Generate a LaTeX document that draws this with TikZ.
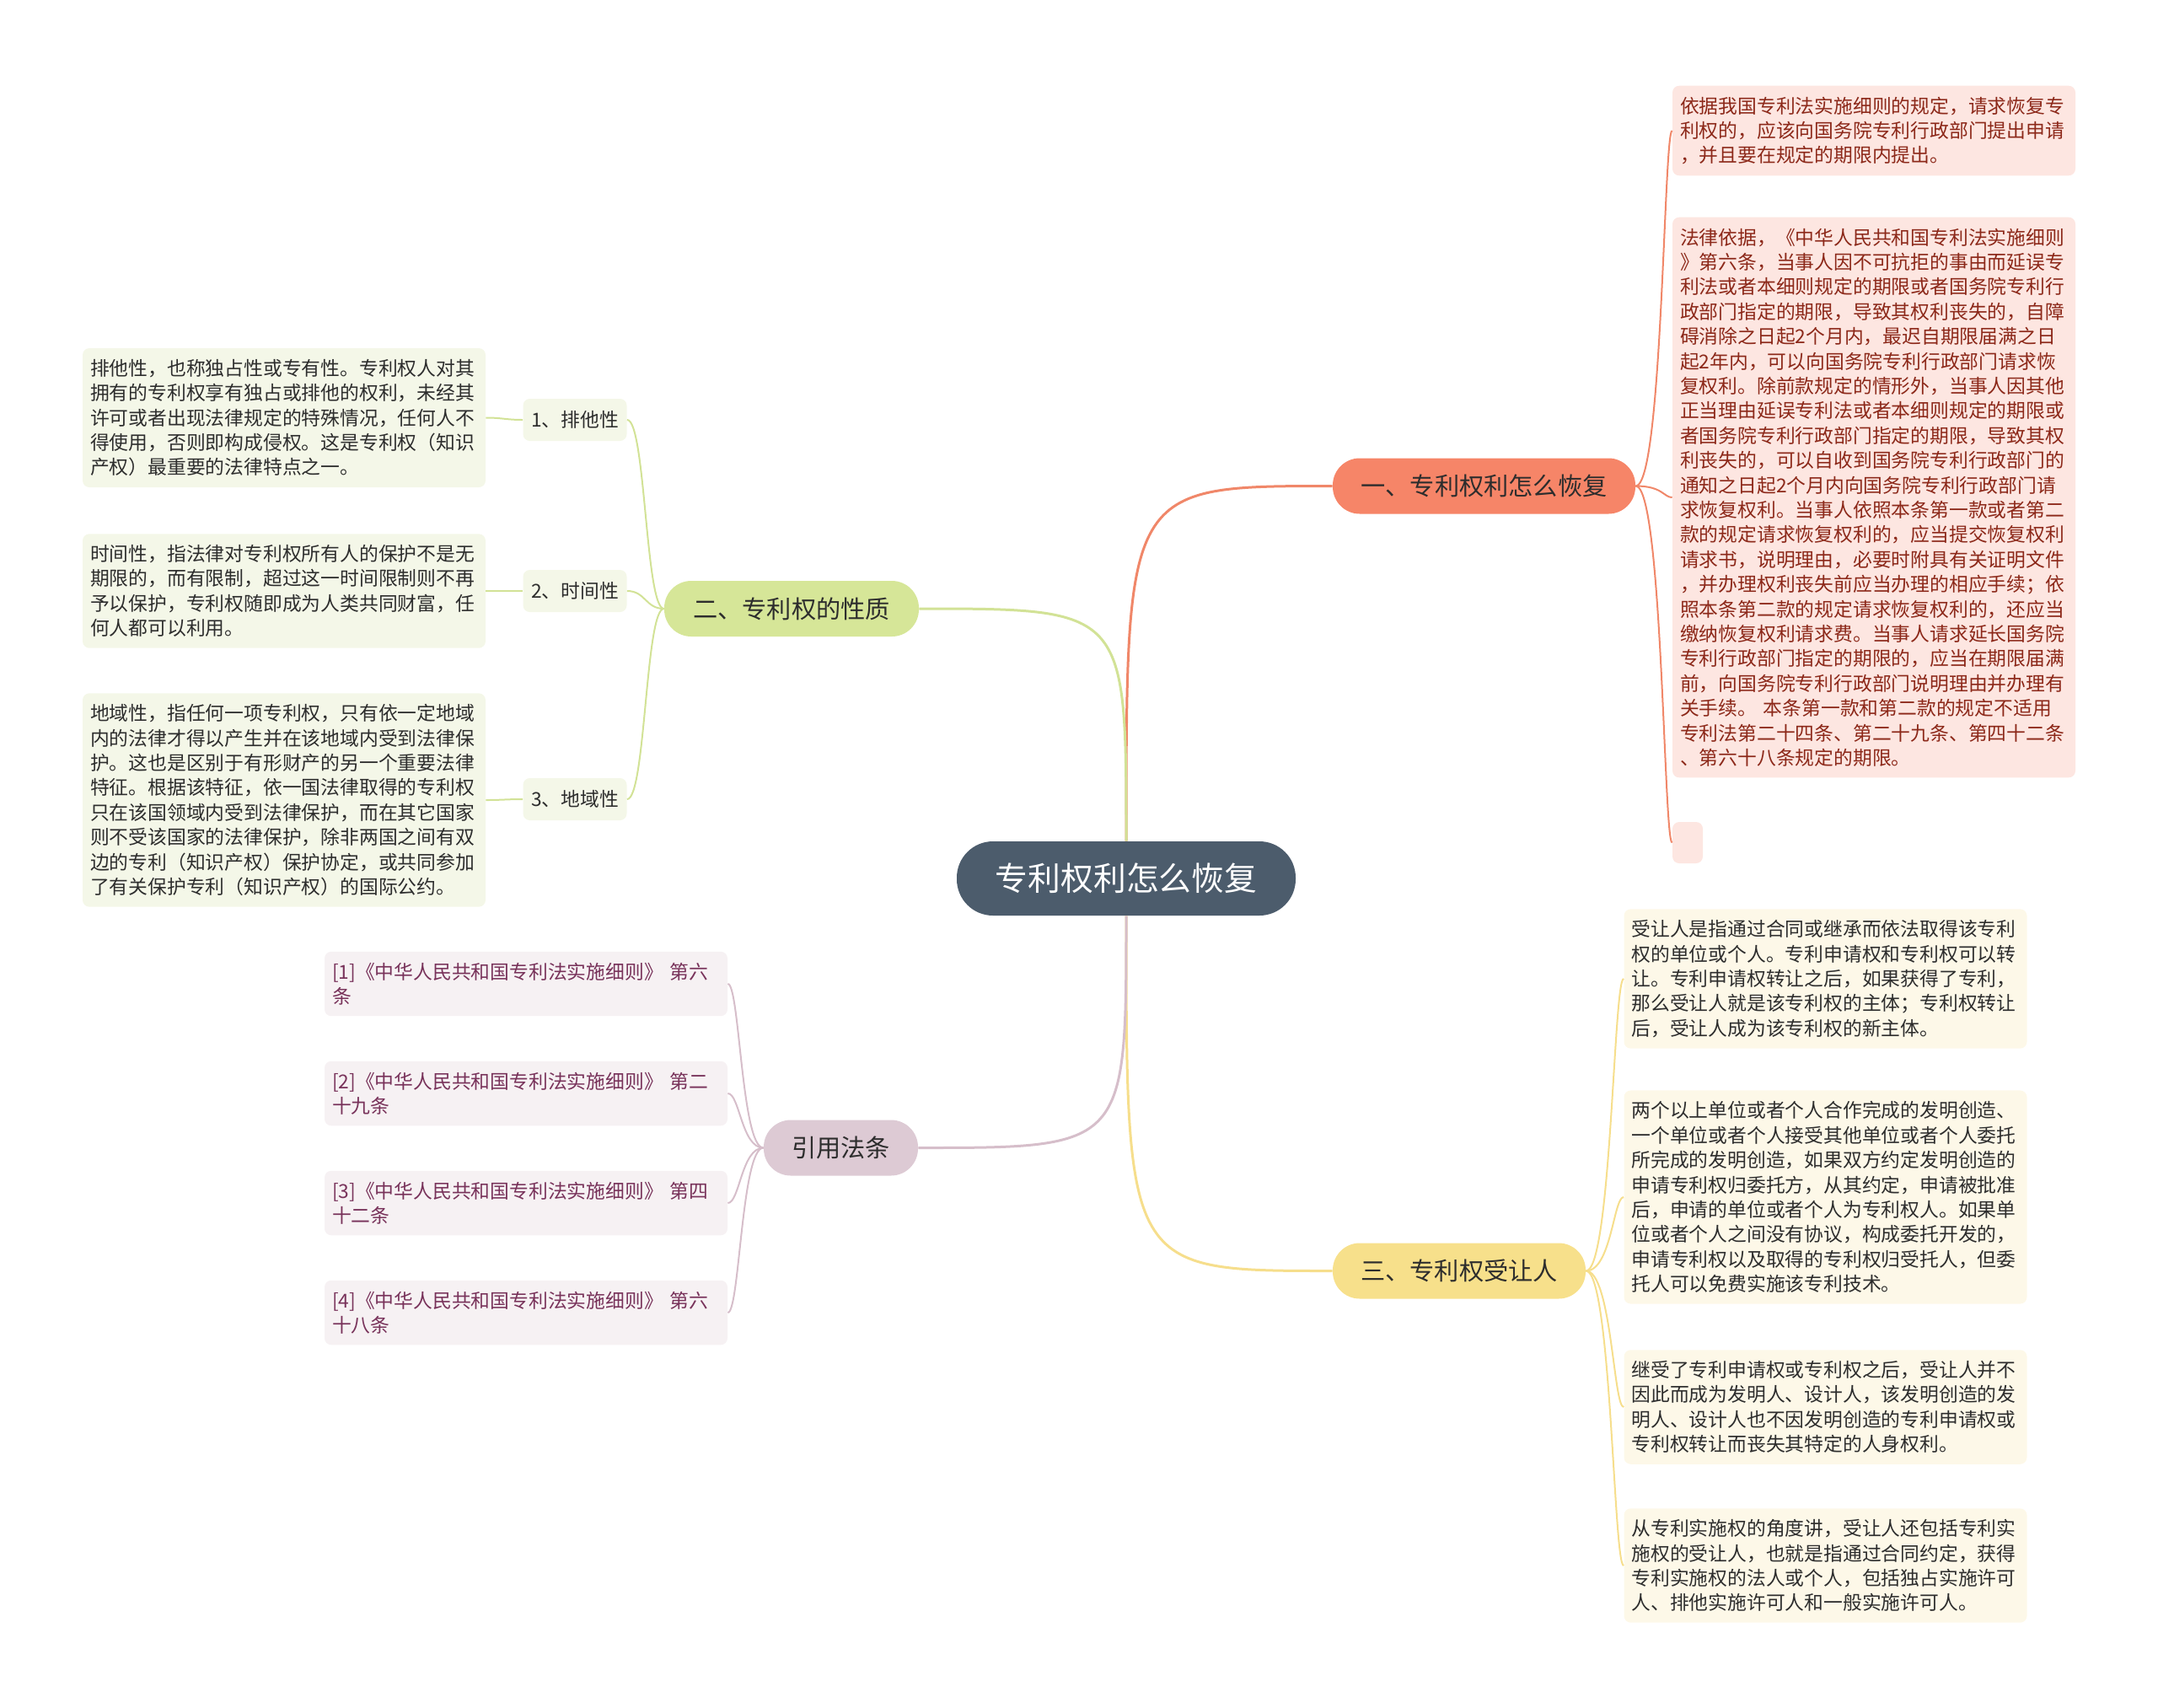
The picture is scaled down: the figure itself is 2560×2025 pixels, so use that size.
\documentclass[tikz,border=0pt]{standalone}
\usepackage{fontspec}
\setmainfont{Noto Sans CJK SC}
\usepackage{xcolor}
\usepackage{tikz}
\definecolor{rootfill}{RGB}{76,92,108}
\definecolor{redfill}{RGB}{246,133,104}
\definecolor{redline}{RGB}{240,135,105}
\definecolor{redleaf}{RGB}{253,230,225}
\definecolor{redtext}{RGB}{140,40,25}
\definecolor{greenfill}{RGB}{214,230,152}
\definecolor{greenline}{RGB}{210,226,150}
\definecolor{greenleaf}{RGB}{244,247,232}
\definecolor{yellowfill}{RGB}{247,224,139}
\definecolor{yellowline}{RGB}{246,222,140}
\definecolor{yellowleaf}{RGB}{253,248,232}
\definecolor{plumfill}{RGB}{221,202,212}
\definecolor{plumline}{RGB}{214,190,202}
\definecolor{plumleaf}{RGB}{246,241,243}
\definecolor{plumtext}{RGB}{120,50,90}
\definecolor{darktext}{RGB}{45,45,45}

\begin{document}
\begin{tikzpicture}[x=0.5pt, y=-0.5pt,
  rootnode/.style={fill=rootfill, text=white, rounded corners=21.5pt, minimum width=201pt, minimum height=44pt, inner sep=0pt, font=\fontsize{19.4}{22}\selectfont},
  branch/.style={rounded corners=16pt, minimum height=33pt, inner sep=0pt, text=darktext, font=\fontsize{14.6}{18}\selectfont},
  leaf/.style={rounded corners=4pt, text width=230pt, align=left, inner xsep=4.5pt, inner ysep=6.5pt, font=\fontsize{11.4}{14.7}\selectfont},
  tag/.style={fill=greenleaf, text=darktext, rounded corners=4pt, minimum width=61.5pt, minimum height=25pt, inner sep=0pt, font=\fontsize{11.4}{14}\selectfont},
  trunk/.style={line width=1.5pt},
  twig/.style={line width=1pt}]
\useasboundingbox (0,0) rectangle (2560,2025);

\node[rootnode] (root) at (1336,1042) {专利权利怎么恢复};
\node[branch, fill=redfill, minimum width=179.5pt] (b1) at (1760.5,576.5) {一、专利权利怎么恢复};
\node[branch, fill=greenfill, minimum width=151pt] (b2) at (939,722) {二、专利权的性质};
\node[branch, fill=yellowfill, minimum width=150pt] (b3) at (1731,1507.5) {三、专利权受让人};
\node[branch, fill=plumfill, minimum width=91.5pt] (b4) at (997.5,1361.5) {引用法条};

\node[leaf, fill=redleaf, text=redtext] (a1) at (2223,155) {依据我国专利法实施细则的规定，请求恢复专\\利权的，应该向国务院专利行政部门提出申请\\，并且要在规定的期限内提出。};
\node[leaf, fill=redleaf, text=redtext] (a2) at (2223,590) {法律依据，《中华人民共和国专利法实施细则\\》第六条，当事人因不可抗拒的事由而延误专\\利法或者本细则规定的期限或者国务院专利行\\政部门指定的期限，导致其权利丧失的，自障\\碍消除之日起2个月内，最迟自期限届满之日\\起2年内，可以向国务院专利行政部门请求恢\\复权利。除前款规定的情形外，当事人因其他\\正当理由延误专利法或者本细则规定的期限或\\者国务院专利行政部门指定的期限，导致其权\\利丧失的，可以自收到国务院专利行政部门的\\通知之日起2个月内向国务院专利行政部门请\\求恢复权利。当事人依照本条第一款或者第二\\款的规定请求恢复权利的，应当提交恢复权利\\请求书，说明理由，必要时附具有关证明文件\\，并办理权利丧失前应当办理的相应手续；依\\照本条第二款的规定请求恢复权利的，还应当\\缴纳恢复权利请求费。当事人请求延长国务院\\专利行政部门指定的期限的，应当在期限届满\\前，向国务院专利行政部门说明理由并办理有\\关手续。 本条第一款和第二款的规定不适用\\专利法第二十四条、第二十九条、第四十二条\\、第六十八条规定的期限。};
\node[fill=redleaf, rounded corners=4pt, minimum width=18pt, minimum height=24.5pt, inner sep=0pt] (a3) at (2002,999.5) {};

\node[tag] (l1) at (682,498) {1、排他性};
\node[tag] (l2) at (682,701) {2、时间性};
\node[tag] (l3) at (682,948) {3、地域性};
\node[leaf, fill=greenleaf, text=darktext] (x1) at (337,495.5) {排他性，也称独占性或专有性。专利权人对其\\拥有的专利权享有独占或排他的权利，未经其\\许可或者出现法律规定的特殊情况，任何人不\\得使用，否则即构成侵权。这是专利权（知识\\产权）最重要的法律特点之一。};
\node[leaf, fill=greenleaf, text=darktext] (x2) at (337,701) {时间性，指法律对专利权所有人的保护不是无\\期限的，而有限制，超过这一时间限制则不再\\予以保护，专利权随即成为人类共同财富，任\\何人都可以利用。};
\node[leaf, fill=greenleaf, text=darktext] (x3) at (337,949) {地域性，指任何一项专利权，只有依一定地域\\内的法律才得以产生并在该地域内受到法律保\\护。这也是区别于有形财产的另一个重要法律\\特征。根据该特征，依一国法律取得的专利权\\只在该国领域内受到法律保护，而在其它国家\\则不受该国家的法律保护，除非两国之间有双\\边的专利（知识产权）保护协定，或共同参加\\了有关保护专利（知识产权）的国际公约。};

\node[leaf, fill=yellowleaf, text=darktext] (c1) at (2165.5,1161) {受让人是指通过合同或继承而依法取得该专利\\权的单位或个人。专利申请权和专利权可以转\\让。专利申请权转让之后，如果获得了专利，\\那么受让人就是该专利权的主体；专利权转让\\后，受让人成为该专利权的新主体。};
\node[leaf, fill=yellowleaf, text=darktext] (c2) at (2165.5,1420) {两个以上单位或者个人合作完成的发明创造、\\一个单位或者个人接受其他单位或者个人委托\\所完成的发明创造，如果双方约定发明创造的\\申请专利权归委托方，从其约定，申请被批准\\后，申请的单位或者个人为专利权人。如果单\\位或者个人之间没有协议，构成委托开发的，\\申请专利权以及取得的专利权归受托人，但委\\托人可以免费实施该专利技术。};
\node[leaf, fill=yellowleaf, text=darktext] (c3) at (2165.5,1669) {继受了专利申请权或专利权之后，受让人并不\\因此而成为发明人、设计人，该发明创造的发\\明人、设计人也不因发明创造的专利申请权或\\专利权转让而丧失其特定的人身权利。};
\node[leaf, fill=yellowleaf, text=darktext] (c4) at (2165.5,1857) {从专利实施权的角度讲，受让人还包括专利实\\施权的受让人，也就是指通过合同约定，获得\\专利实施权的法人或个人，包括独占实施许可\\人、排他实施许可人和一般实施许可人。};

\node[leaf, fill=plumleaf, text=plumtext] (d1) at (624,1167) {[1]《中华人民共和国专利法实施细则》 第六\\条};
\node[leaf, fill=plumleaf, text=plumtext] (d2) at (624,1297) {[2]《中华人民共和国专利法实施细则》 第二\\十九条};
\node[leaf, fill=plumleaf, text=plumtext] (d3) at (624,1427) {[3]《中华人民共和国专利法实施细则》 第四\\十二条};
\node[leaf, fill=plumleaf, text=plumtext] (d4) at (624,1557) {[4]《中华人民共和国专利法实施细则》 第六\\十八条};

\draw[trunk, redline] (root.north) .. controls (root.north |- b1.west) .. (b1.west);
\draw[trunk, greenline] (root.north) .. controls (root.north |- b2.east) .. (b2.east);
\draw[trunk, yellowline] (root.south) .. controls (root.south |- b3.west) .. (b3.west);
\draw[trunk, plumline] (root.south) .. controls (root.south |- b4.east) .. (b4.east);

\foreach \n in {a1,a2,a3}
  \draw[twig, redline] (b1.east) .. controls +(32,0) and +(-10,0) .. (\n.west);
\foreach \n in {l1,l2,l3}
  \draw[twig, greenline] (b2.west) .. controls +(-22,0) and +(22,0) .. (\n.east);
\foreach \n/\m in {l1/x1,l2/x2,l3/x3}
  \draw[twig, greenline] (\n.west) .. controls +(-20,0) and +(20,0) .. (\m.east);
\foreach \n in {c1,c2,c3,c4}
  \draw[twig, yellowline] (b3.east) .. controls +(30,0) and +(-12,0) .. (\n.west);
\foreach \n in {d1,d2,d3,d4}
  \draw[twig, plumline] (b4.west) .. controls +(-26,0) and +(14,0) .. (\n.east);
\end{tikzpicture}
\end{document}
